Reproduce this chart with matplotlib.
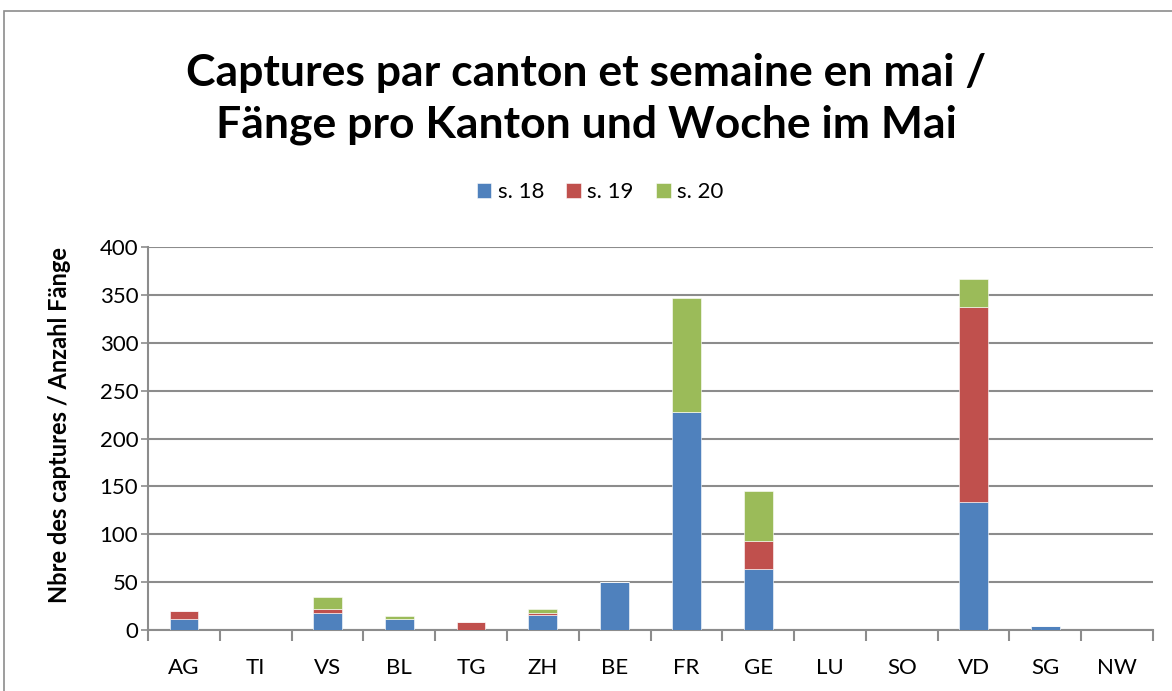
import matplotlib.pyplot as plt
import numpy as np
from matplotlib.patches import Rectangle

# cantons et captures par semaine
cantons = ['AG', 'TI', 'VS', 'BL', 'TG', 'ZH', 'BE', 'FR', 'GE', 'LU', 'SO', 'VD', 'SG', 'NW']
s18 = [11, 0, 18, 11, 0, 16, 50, 228, 64, 0, 0, 134, 4, 0]
s19 = [9, 0, 4, 0, 8, 2, 0, 0, 29, 0, 0, 203, 0, 0]
s20 = [0, 0, 12, 4, 0, 4, 0, 119, 52, 0, 0, 30, 0, 0]
semaines = ['s. 18', 's. 19', 's. 20']
couleurs = ['#4F81BD', '#C0504D', '#9BBB59']

plt.rcParams['font.family'] = ['Lato', 'DejaVu Sans']

fig = plt.figure(figsize=(11.72, 6.91), dpi=100)
ax = fig.add_axes([0.1263, 0.0883, 0.8575, 0.5542])

x = np.arange(len(cantons))
bas = np.zeros(len(cantons))
for vals, nom, c in zip([s18, s19, s20], semaines, couleurs):
    ax.bar(x, vals, 0.4, bottom=bas, color=c, label=nom, edgecolor='white', linewidth=0.4, zorder=3)
    bas += np.array(vals)

ax.set_xlim(-0.5, len(cantons) - 0.5)
ax.set_ylim(0, 400)
ax.set_yticks(range(0, 401, 50))
ax.yaxis.grid(True, color='#8c8c8c', linewidth=1.5, zorder=0)
ax.set_xticks(x)
ax.set_xticklabels(cantons)
ax.set_xticks(np.arange(-0.5, len(cantons)), minor=True)
ax.tick_params(axis='x', which='major', length=0, labelsize=16, pad=20)
ax.tick_params(axis='x', which='minor', length=8, width=1.5, color='#8c8c8c')
ax.tick_params(axis='y', length=5, width=1.2, color='#8c8c8c', labelsize=16, pad=2)
for s in ['top', 'right']:
    ax.spines[s].set_visible(False)
for s in ['left', 'bottom']:
    ax.spines[s].set_color('#8c8c8c')
    ax.spines[s].set_linewidth(1.5)

ax.set_ylabel('Nbre des captures / Anzahl Fänge', fontsize=17, fontweight='bold')
ax.yaxis.set_label_coords(-0.077, 0.535)

fig.text(0.5, 0.857, 'Captures par canton et semaine en mai /\nFänge pro Kanton und Woche im Mai',
         ha='center', va='center', fontsize=32, fontweight='bold', linespacing=1.33)

fig.legend(loc='center', bbox_to_anchor=(0.512, 0.722), ncol=3, frameon=False, fontsize=16,
           handlelength=0.65, handleheight=0.65, handletextpad=0.3, columnspacing=1.0)

# cadre du graphique
fig.patches.append(Rectangle((4 / 1172, -0.1), 1.2, 1 - 11 / 691 + 0.1, transform=fig.transFigure,
                             fill=False, edgecolor='#8c8c8c', linewidth=1.2))

fig.savefig('out.png', dpi=100)
